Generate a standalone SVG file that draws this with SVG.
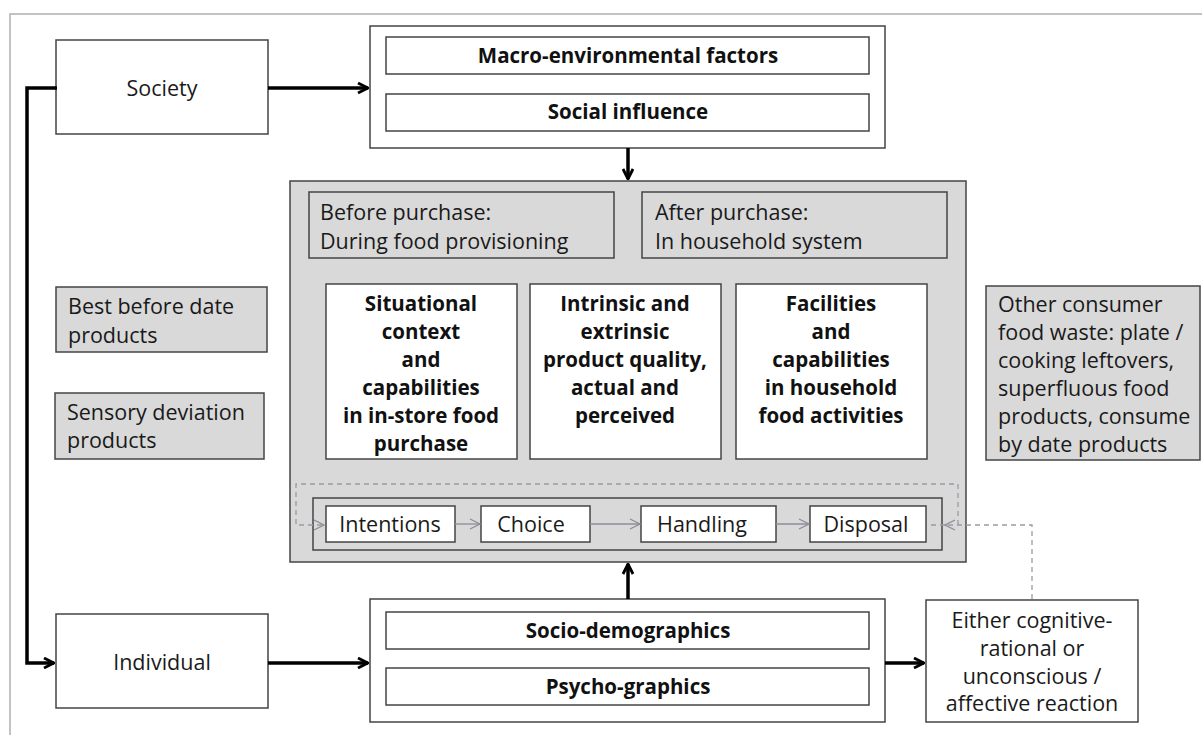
<svg xmlns="http://www.w3.org/2000/svg" width="1202" height="735" viewBox="0 0 1202 735">
<style>
.t{font-family:"Open Sans","Liberation Sans",sans-serif;font-size:21.5px;fill:#1a1a1a}
.b{font-family:"Open Sans","Liberation Sans",sans-serif;font-size:20.5px;font-weight:bold;fill:#111}
.c{text-anchor:middle}
.wb{fill:#fff;stroke:#444;stroke-width:1.5}
.gb{fill:#d9d9d9;stroke:#444;stroke-width:1.5}
.main{fill:none;stroke:#000;stroke-width:3.5}
.thin{fill:none;stroke:#8c8c99;stroke-width:1.3}
.dash{fill:none;stroke:#9a9aa5;stroke-width:1.3;stroke-dasharray:5,4}
</style>
<defs>
<marker id="ah" viewBox="0 0 12 12" refX="11" refY="6" markerWidth="12" markerHeight="12" markerUnits="userSpaceOnUse" orient="auto">
<path d="M1 1 L11 6 L1 11" fill="none" stroke="#000" stroke-width="2.8"/>
</marker>
<marker id="ag" viewBox="0 0 12 12" refX="11" refY="6" markerWidth="12" markerHeight="12" markerUnits="userSpaceOnUse" orient="auto">
<path d="M1 1 L11 6 L1 11" fill="none" stroke="#8c8c99" stroke-width="1.3"/>
</marker>
</defs>
<rect width="1202" height="735" fill="#fff"/>
<rect x="10" y="14" width="1200" height="730" fill="none" stroke="#b0b0b0" stroke-width="1.5"/>

<g id="society"><rect class="wb" x="56" y="40" width="212" height="94"/><text class="t c" x="162" y="96">Society</text></g>
<g id="individual"><rect class="wb" x="56" y="614" width="212" height="94"/><text class="t c" x="162" y="670">Individual</text></g>

<g id="societal-factors">
<rect class="wb" x="370" y="26" width="515" height="122"/>
<rect class="wb" x="386" y="37" width="483" height="37"/><text class="b c" x="628" y="63">Macro-environmental factors</text>
<rect class="wb" x="386" y="94" width="483" height="37"/><text class="b c" x="628" y="119">Social influence</text>
</g>

<g id="individual-factors">
<rect class="wb" x="370" y="599" width="515" height="123"/>
<rect class="wb" x="386" y="612" width="483" height="37"/><text class="b c" x="628" y="638">Socio-demographics</text>
<rect class="wb" x="386" y="668" width="483" height="37"/><text class="b c" x="628" y="694">Psycho-graphics</text>
</g>

<g id="best-before"><rect class="gb" x="56" y="287" width="211" height="65"/><text class="t" x="68" y="314">Best before date</text><text class="t" x="68" y="343">products</text></g>
<g id="sensory"><rect class="gb" x="55" y="393" width="209" height="66"/><text class="t" x="67" y="420">Sensory deviation</text><text class="t" x="67" y="448">products</text></g>
<g id="other-waste"><rect class="gb" x="986" y="286" width="214" height="174"/>
<text class="t" x="998" y="312">Other consumer</text>
<text class="t" x="998" y="340">food waste: plate /</text>
<text class="t" x="998" y="368">cooking leftovers,</text>
<text class="t" x="998" y="396">superfluous food</text>
<text class="t" x="998" y="424">products, consume</text>
<text class="t" x="998" y="452">by date products</text>
</g>

<g id="reaction"><rect class="wb" x="926" y="600" width="212" height="122"/>
<text class="t c" x="1032" y="628">Either cognitive-</text>
<text class="t c" x="1032" y="656">rational or</text>
<text class="t c" x="1032" y="684">unconscious /</text>
<text class="t c" x="1032" y="711">affective reaction</text>
</g>

<g id="food-system">
<rect class="gb" x="290" y="181" width="676" height="381"/>
<rect class="gb" x="309" y="192" width="305" height="66"/><text class="t" x="320" y="220">Before purchase:</text><text class="t" x="320" y="249">During food provisioning</text>
<rect class="gb" x="642" y="192" width="305" height="66"/><text class="t" x="655" y="220">After purchase:</text><text class="t" x="655" y="249">In household system</text>
</g>
<g id="situational"><rect class="wb" x="326" y="284" width="191" height="175"/>
<text class="b c" x="421" y="311">Situational</text><text class="b c" x="421" y="339">context</text><text class="b c" x="421" y="367">and</text><text class="b c" x="421" y="395">capabilities</text><text class="b c" x="421" y="423">in in-store food</text><text class="b c" x="421" y="451">purchase</text>
</g>
<g id="quality"><rect class="wb" x="530" y="284" width="191" height="175"/>
<text class="b c" x="625" y="311">Intrinsic and</text><text class="b c" x="625" y="339">extrinsic</text><text class="b c" x="625" y="367">product quality,</text><text class="b c" x="625" y="395">actual and</text><text class="b c" x="625" y="423">perceived</text>
</g>
<g id="facilities"><rect class="wb" x="736" y="284" width="191" height="175"/>
<text class="b c" x="831" y="311">Facilities</text><text class="b c" x="831" y="339">and</text><text class="b c" x="831" y="367">capabilities</text><text class="b c" x="831" y="395">in household</text><text class="b c" x="831" y="423">food activities</text>
</g>
<g id="process"><rect class="gb" x="313" y="498" width="629" height="52"/></g>
<g id="intentions"><rect class="wb" x="326" y="506" width="129" height="36"/><text class="t c" x="390" y="532">Intentions</text></g>
<g id="choice"><rect class="wb" x="481" y="506" width="109" height="36"/><text class="t c" x="531" y="532">Choice</text></g>
<g id="handling"><rect class="wb" x="641" y="506" width="135" height="36"/><text class="t c" x="702" y="532">Handling</text></g>
<g id="disposal"><rect class="wb" x="810" y="506" width="116" height="36"/><text class="t c" x="866" y="532">Disposal</text></g>

<g id="connectors">
<path class="main" d="M57 88 H27 V663 H54" marker-end="url(#ah)"/>
<path class="main" d="M268 88 H368" marker-end="url(#ah)"/>
<path class="main" d="M268 663 H368" marker-end="url(#ah)"/>
<path class="main" d="M885 663 H924" marker-end="url(#ah)"/>
<path class="main" d="M628 148 V179" marker-end="url(#ah)"/>
<path class="main" d="M628 599 V564" marker-end="url(#ah)"/>
<path class="thin" d="M455 524 H480" marker-end="url(#ag)"/>
<path class="thin" d="M590 524 H640" marker-end="url(#ag)"/>
<path class="thin" d="M776 524 H809" marker-end="url(#ag)"/>
<path class="dash" d="M958 525 V484 H296 V525 H324" marker-end="url(#ag)"/>
<path class="dash" d="M1032 599 V525 H945" marker-end="url(#ag)"/>
<path class="dash" d="M945 525 H927"/>
</g>
</svg>
